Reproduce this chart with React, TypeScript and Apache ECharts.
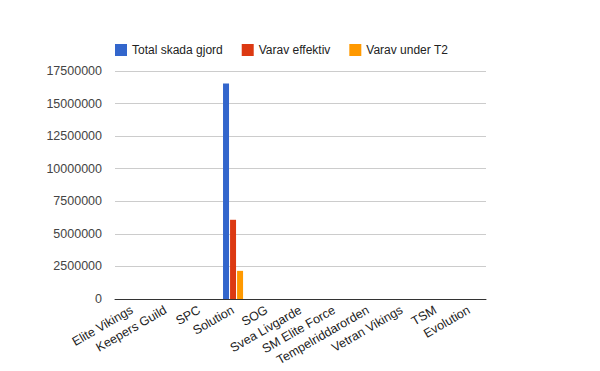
import React, { useEffect, useRef } from "react";
import * as echarts from "echarts";

const categories = [
  "Elite Vikings",
  "Keepers Guild",
  "SPC",
  "Solution",
  "SOG",
  "Svea Livgarde",
  "SM Elite Force",
  "Tempelriddarorden",
  "Vetran Vikings",
  "TSM",
  "Evolution",
];
const totalSkada = [0, 0, 0, 16550000, 0, 0, 0, 0, 0, 0, 0];
const varavEffektiv = [0, 0, 0, 6080000, 0, 0, 0, 0, 0, 0, 0];
const varavT2 = [0, 0, 0, 2160000, 0, 0, 0, 0, 0, 0, 0];
const seriesNames = ["Total skada gjord", "Varav effektiv", "Varav under T2"];
const colors = ["#3366cc", "#dc3912", "#ff9900"];

export default function App() {
  const ref = useRef<HTMLDivElement>(null);
  useEffect(() => {
    if (!ref.current) return;
    const chart = echarts.init(ref.current, undefined, { renderer: "svg" });
    const font = "'Liberation Sans', Arial, sans-serif";
    const datas = [totalSkada, varavEffektiv, varavT2];
    chart.setOption({
      animation: false,
      textStyle: { fontFamily: font },
      legend: {
        top: 39,
        left: 110,
        itemWidth: 12,
        itemHeight: 12,
        itemGap: 19,
        icon: "rect",
        textStyle: { fontSize: 12, color: "#222", fontFamily: font },
        data: seriesNames,
      },
      grid: { left: 115, right: 114, top: 71, bottom: 72, containLabel: false },
      xAxis: {
        type: "category",
        data: categories,
        axisLine: { lineStyle: { color: "#333" } },
        axisTick: { show: false },
        axisLabel: {
          interval: 0,
          rotate: 30,
          fontSize: 12.5,
          color: "#222",
          fontFamily: font,
          margin: 10,
        },
      },
      yAxis: {
        type: "value",
        min: 0,
        max: 17500000,
        interval: 2500000,
        axisLine: { show: false },
        axisTick: { show: false },
        splitLine: { lineStyle: { color: "#cccccc" } },
        axisLabel: {
          fontSize: 12.5,
          color: "#444",
          fontFamily: font,
          margin: 13,
          formatter: (v: number) => String(v),
        },
      },
      series: seriesNames.map((name, i) => ({
        name,
        type: "bar",
        data: datas[i],
        barWidth: 6,
        barGap: "17%",
        itemStyle: { color: colors[i] },
      })),
    });
    return () => chart.dispose();
  }, []);
  return <div ref={ref} style={{ width: 600, height: 371, position: "absolute", left: 0, top: 0, background: "#fff" }} />;
}
